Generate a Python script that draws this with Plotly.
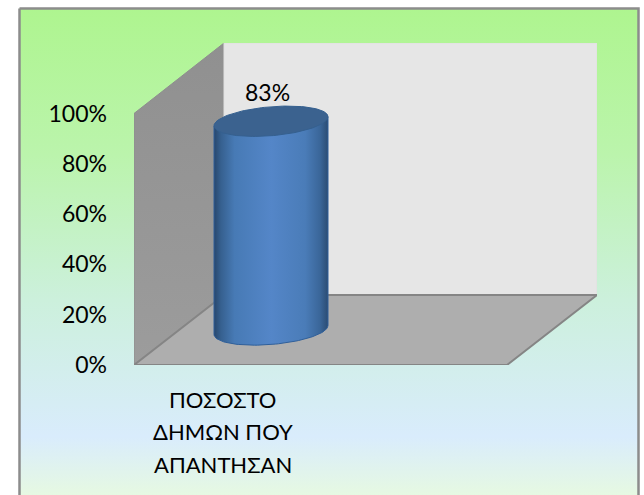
import numpy as np
import plotly.graph_objects as go

# --- data ---
categories = ["ΠΟΣΟΣΤΟ ΔΗΜΩΝ ΠΟΥ ΑΠΑΝΤΗΣΑΝ"]
category_lines = ["ΠΟΣΟΣΤΟ", "ΔΗΜΩΝ ΠΟΥ", "ΑΠΑΝΤΗΣΑΝ"]
values = [83]
value_ticks = [0, 20, 40, 60, 80, 100]
value_labels = ["0%", "20%", "40%", "60%", "80%", "100%"]

W, H = 644, 495
FONT = "Lato"
TXT = 23

# plot box in page pixels
L, R, T, B = 134, 597, 43, 365
PX = 2.515                # pixels per percent
DX, DY = 90, 70           # 3-D depth offset in pixels
FRONT_W = R - L - DX
ytop = (B - T) / PX
dv = DY / PX              # depth expressed in value units
cat_x = 222.5             # tick position of the category, x axis units = px
cx = 271                  # cylinder axis
base = dv / 2 + 0.0       # value-axis position of the cylinder foot
a, b, shear = 57, 14.5 / PX, 4.5 / PX

fig = go.Figure()

# page background with frame (first subplot, underneath)
fig.add_trace(go.Scatter(
    x=[19.5, 638.5, 638.5, 19.5, 19.5], y=[8.5, 8.5, 497, 497, 8.5], mode="lines",
    line=dict(color="#8C8C8C", width=2.5), fill="toself",
    fillgradient=dict(type="vertical", start=8, stop=495, colorscale=[
        [0, "#AEF58F"], [0.3, "#BBF4AC"], [0.6, "#CCF0DC"], [0.88, "#D9ECFC"], [1, "#E6F9E2"]]),
    hoverinfo="skip", showlegend=False, xaxis="x", yaxis="y"))


def poly(xs, ys, **kw):
    fig.add_trace(go.Scatter(x=xs, y=ys, mode="lines", fill="toself", hoverinfo="skip",
                             showlegend=False, xaxis="x2", yaxis="y2", **kw))


v100 = value_ticks[-1]
# left wall
poly([L, L + DX, L + DX, L, L], [0, dv, ytop, v100, 0],
     line=dict(color="#8E8E8E", width=1),
     fillgradient=dict(type="vertical", start=0, stop=ytop,
                       colorscale=[[0, "#9C9C9C"], [1, "#909090"]]))
# back wall
poly([L + DX, R, R, L + DX, L + DX], [dv, dv, ytop, ytop, dv],
     line=dict(color="#E0E0E0", width=1), fillcolor="#E6E6E6")
# floor
poly([L, L + FRONT_W, R, L + DX, L], [0, 0, dv, dv, 0],
     line=dict(color="#858585", width=2), fillcolor="#AEAEAE")

# cylinder
t = np.linspace(0, np.pi, 60)
top_v = base + values[0]
ex = cx + a * np.cos(t)
ey = -b * np.sin(t) + shear * np.cos(t)
side_x = np.r_[ex, ex[-1], ex[0], ex[0]]
side_y = np.r_[base + ey, top_v - shear, top_v + shear, base + shear]
poly(side_x.tolist(), side_y.tolist(), line=dict(color="#2F5F9A", width=1),
     fillgradient=dict(type="horizontal", start=cx - a, stop=cx + a, colorscale=[
         [0, "#28476D"], [0.06, "#36608F"], [0.18, "#477AB5"], [0.5, "#5486C8"],
         [0.8, "#4A7CB8"], [0.93, "#3A6699"], [1, "#2B4C73"]]))
t2 = np.linspace(0, 2 * np.pi, 120)
poly((cx + a * np.cos(t2)).tolist(),
     (top_v + b * np.sin(t2) + shear * np.cos(t2)).tolist(),
     line=dict(color="#35608F", width=1), fillcolor="#3B628F")

# text
ann = [dict(x=267, y=top_v + 11.6, xref="x2", yref="y2", text=f"{values[0]}%", showarrow=False,
            yanchor="middle", font=dict(family=FONT, size=TXT, color="#000"))]
for i, line in enumerate(category_lines):
    ann.append(dict(x=cat_x, xref="x2", y=1 - (399 + i * 32.5) / H, yref="paper", text=line,
                    showarrow=False, yanchor="middle",
                    font=dict(family=FONT, size=TXT - 1, color="#000")))

fig.update_layout(
    autosize=False,
    width=W, height=H, margin=dict(l=0, r=0, t=0, b=0, pad=0, autoexpand=False),
    paper_bgcolor="#FFFFFF", plot_bgcolor="rgba(0,0,0,0)", showlegend=False,
    font=dict(family=FONT, size=TXT, color="#000"),
    annotations=ann,
    xaxis=dict(domain=[0, 1], range=[0, W], visible=False, fixedrange=True),
    yaxis=dict(domain=[0, 1], range=[H, 0], visible=False, fixedrange=True),
    xaxis2=dict(domain=[L / W, R / W], range=[L, R], anchor="y2", showgrid=False, zeroline=False,
                showline=False, tickvals=[cat_x], ticktext=[""], ticks="", fixedrange=True),
    yaxis2=dict(domain=[1 - B / H, 1 - T / H], range=[0, ytop], anchor="x2", showgrid=False,
                zeroline=False, showline=False, tickvals=value_ticks, ticktext=value_labels,
                ticks="", ticklabelstandoff=26, tickfont=dict(family=FONT, size=TXT, color="#000"),
                fixedrange=True),
)

fig.write_html("out.html", config=dict(displayModeBar=False, responsive=False),
               default_width="644px", default_height="495px",
               post_script="document.body.style.margin='0';document.body.style.overflow='hidden';")
